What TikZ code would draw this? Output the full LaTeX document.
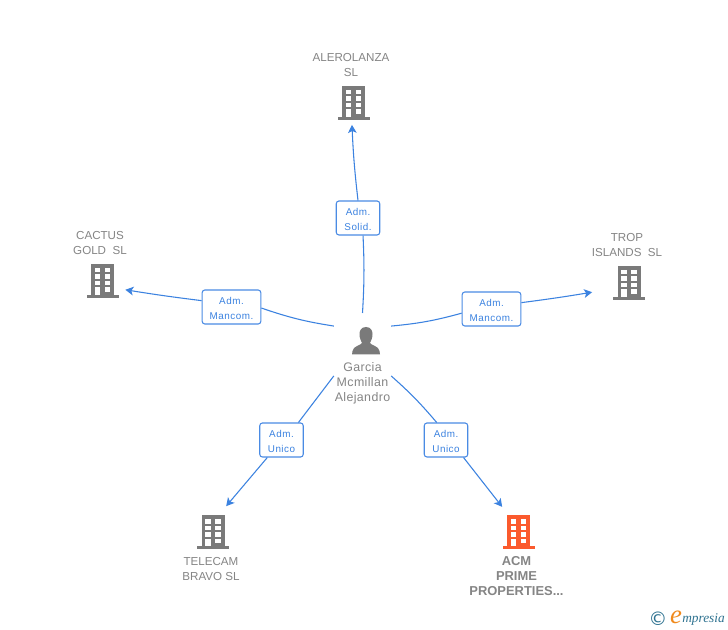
\documentclass[tikz,border=0pt]{standalone}
\usepackage{fontspec}
\setmainfont{Liberation Sans}
\newfontfamily\logofont{Liberation Serif}
\newfontfamily\symfont{DejaVu Sans}
\newfontfamily\spacedfont[LetterSpace=3]{Liberation Sans}
\newfontfamily\rolefont[LetterSpace=5]{Liberation Sans}
\usetikzlibrary{arrows.meta}
\definecolor{linkblue}{HTML}{3B82E0}
\definecolor{boxblue}{HTML}{4A8BE4}
\definecolor{bldgrey}{HTML}{7A7A7A}
\definecolor{txtgrey}{HTML}{858585}
\definecolor{acmred}{HTML}{FB5A2D}
\definecolor{logoteal}{HTML}{2F7391}
\definecolor{logoorange}{HTML}{F08A1D}
\newcommand{\topstrut}{\rule{0pt}{7pt}}
\tikzset{
  x=0.75pt,y=-0.75pt,
  lab/.style={font=\fontsize{8.7pt}{11.25pt}\selectfont,text=txtgrey,align=center,inner sep=0pt},
  hublab/.style={font=\spacedfont\fontsize{9.3pt}{11.25pt}\selectfont,text=txtgrey,align=center,inner sep=0pt},
  acmlab/.style={font=\fontsize{9.7pt}{11.25pt}\selectfont\bfseries,text=txtgrey,align=center,inner sep=0pt},
  rolebox/.style={draw=boxblue,line width=0.8pt,rounded corners=2pt,fill=white,inner sep=0pt,
    minimum height=25.5pt,font=\rolefont\fontsize{7.4pt}{11.25pt}\selectfont,text=linkblue,align=center},
  narrowbox/.style={rolebox,minimum width=32.6pt},
  widebox/.style={rolebox,minimum width=44pt},
  link/.style={draw=linkblue,line width=0.8pt},
  arrowlink/.style={link,-{Stealth[length=6pt,width=6.5pt,inset=1.5pt]}},
  zone/.style={circle,inner sep=0pt,outer sep=0pt,minimum size=#1*1.5pt}
}
% building: centre x, top y, colour, name, zone radius, zone centre y
\newcommand{\bldg}[6]{%
  \node[zone=#5] (#4) at (#1,#6) {};
  \begin{scope}[shift={(#1,#2)}]
    \fill[#3] (-11.5,0) rectangle (11.5,31);
    \fill[#3] (-16,31) rectangle (16,34);
    \foreach \r in {4,10.5,17}{
      \fill[white] (-8,\r) rectangle (-2.5,\r+4.5);
      \fill[white] (2.2,\r) rectangle (7.7,\r+4.5);
    }
    \fill[white] (2.2,23.5) rectangle (7.7,28);
    \fill[white] (-8,23.5) rectangle (-2.5,31);
  \end{scope}}
\begin{document}
\begin{tikzpicture}
\useasboundingbox (0,0) rectangle (728,630);
\fill[white] (0,0) rectangle (728,630);

\bldg{353.5}{86}{bldgrey}{alero}{22}{103}
\bldg{102.5}{264}{bldgrey}{cactus}{24.5}{281}
\bldg{629}{266}{bldgrey}{trop}{38}{283}
\bldg{213}{515}{bldgrey}{telecam}{29}{532}
\bldg{518.5}{515}{acmred}{acm}{30}{532}

\node[lab] (aleroname) at (351,65) {ALEROLANZA\\SL};
\node[lab] (cactusname) at (100,243.5) {CACTUS\\GOLD\ \ SL};
\node[lab] (tropname) at (627,245.5) {TROP\\ISLANDS\ \ SL};
\node[lab] (telecamname) at (211,569) {TELECAM\\BRAVO SL};
\node[acmlab] (acmname) at (516.5,576) {ACM\\PRIME\\PROPERTIES...};

% person
\node[circle,inner sep=0pt,outer sep=0pt,minimum size=57pt] (hub) at (362.5,351) {};
\fill[bldgrey] (366,327) .. controls (361,327) and (359.5,331) .. (359.5,334)
  .. controls (359.5,338) and (361,341) .. (362,343)
  .. controls (361.5,345) and (353,346) .. (352.5,351) -- (352,354.5) -- (380,354.5) -- (379.5,351)
  .. controls (379,346) and (370.5,345) .. (370,343)
  .. controls (371,341) and (372.5,338) .. (372.5,334)
  .. controls (372.5,331) and (371,327) .. (366,327) -- cycle;
\node[hublab] (hubname) at (362.5,383) {Garcia\\Mcmillan\\Alejandro};

% role boxes
\node[narrowbox] (b1) at (358,218) {\topstrut Adm.\\Solid.};
\node[widebox] (b2) at (231.5,307) {\topstrut Adm.\\Mancom.};
\node[widebox] (b3) at (491.5,309) {\topstrut Adm.\\Mancom.};
\node[narrowbox] (b4) at (281.5,440) {\topstrut Adm.\\Unico};
\node[narrowbox] (b5) at (446,440) {\topstrut Adm.\\Unico};

% connectors
\draw[link] (hub.90) to[bend right=3] (b1.-74);
\draw[arrowlink] (b1.north) to[bend left=2] (alero.266);
\draw[link] (hub.139) to[bend left=5] (b2.-2);
\draw[arrowlink] (b2.168) to[bend left=1] (cactus.-21);
\draw[link] (hub.41) to[bend right=5] (b3.188);
\draw[arrowlink] (b3.12) to[bend right=1] (trop.194);
\draw[link] (hub.221) to (b4.46);
\draw[arrowlink] (b4.231.6) to (telecam.63);
\draw[link] (hub.319) to[bend left=4] (b5.118);
\draw[arrowlink] (b5.-45) to (acm.123.5);

% logo
\node[inner sep=0pt,text=logoteal,font=\symfont\fontsize{14pt}{14pt}\selectfont] (copy) at (658,619) {©};
\node[inner sep=0pt,text=logoorange,font=\logofont\itshape\fontsize{20pt}{20pt}\selectfont] (logoe) at (676,617.5) {e};
\node[inner sep=0pt,text=logoteal,anchor=west,font=\logofont\itshape\fontsize{10pt}{10pt}\selectfont] (logotxt) at (682,620) {mpresia};
\end{tikzpicture}
\end{document}
